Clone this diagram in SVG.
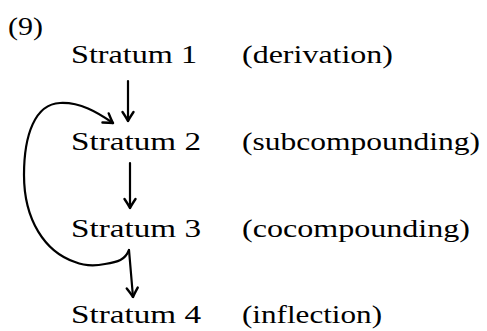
<svg xmlns="http://www.w3.org/2000/svg" width="487" height="331" viewBox="0 0 487 331">
<style>
text{font-family:"Liberation Serif","Times New Roman",serif;font-size:26px;fill:#000}
.c{fill:none;stroke:#000;stroke-width:2.2;stroke-linecap:round}
</style>
<defs>
<marker id="ah" markerUnits="userSpaceOnUse" markerWidth="20" markerHeight="20" refX="0" refY="0" viewBox="-12 -10 14 20" orient="auto">
<path d="M-9,-5.5 Q-3,-1.5 0,0 Q-3,1.5 -9,5.5" fill="none" stroke="#000" stroke-width="2.4" stroke-linecap="round" stroke-linejoin="round"/>
</marker>
</defs>
<rect width="487" height="331" fill="#fff"/>
<text id="label9" x="8" y="35" textLength="35" lengthAdjust="spacingAndGlyphs">(9)</text>
<g id="s1"><text x="71" y="63" textLength="126" lengthAdjust="spacingAndGlyphs">Stratum 1</text><text x="242" y="63" textLength="151" lengthAdjust="spacingAndGlyphs">(derivation)</text></g>
<g id="s2"><text x="71" y="150" textLength="130" lengthAdjust="spacingAndGlyphs">Stratum 2</text><text x="242" y="150" textLength="238" lengthAdjust="spacingAndGlyphs">(subcompounding)</text></g>
<g id="s3"><text x="71" y="237" textLength="130" lengthAdjust="spacingAndGlyphs">Stratum 3</text><text x="242" y="237" textLength="228" lengthAdjust="spacingAndGlyphs">(cocompounding)</text></g>
<g id="s4"><text x="71" y="323" textLength="130" lengthAdjust="spacingAndGlyphs">Stratum 4</text><text x="242" y="323" textLength="140" lengthAdjust="spacingAndGlyphs">(inflection)</text></g>
<g id="connectors">
<path class="c" d="M128,81 L128,121" marker-end="url(#ah)"/>
<path class="c" d="M130,163 L130,208" marker-end="url(#ah)"/>
<path class="c" d="M129,250 L133,297" marker-end="url(#ah)"/>
<path class="c" d="M129,250 C125,260 118,262 105,264 C95,266 85,266 75,262 C45,252 24,220 24,175 C24,135 35,104 60,103 C80,102 97,112 113,123" marker-end="url(#ah)"/>
</g>
</svg>
